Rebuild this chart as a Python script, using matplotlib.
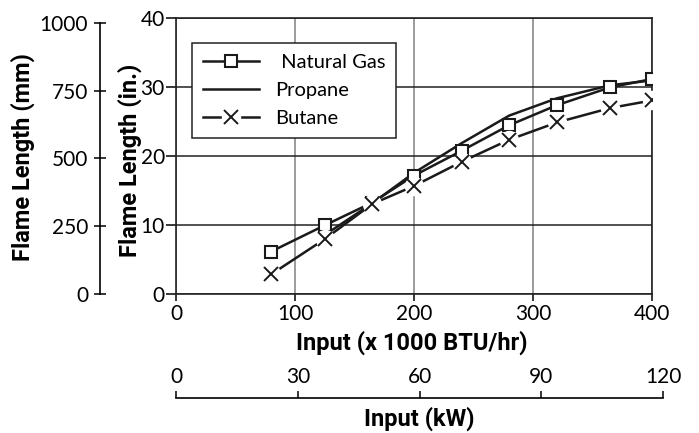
import numpy as np
import matplotlib.pyplot as plt
from matplotlib.ticker import FixedLocator

plt.rcParams['font.family'] = ['Lato', 'DejaVu Sans']

# input in 1000 BTU/hr, flame length in inches
ng_x = [80, 125, 165, 200, 240, 280, 320, 365, 400]
ng_y = [6.2, 10.0, 13.3, 17.2, 20.8, 24.5, 27.4, 30.0, 31.2]
pr_x = [125, 165, 200, 240, 280, 320, 365, 400]
pr_y = [8.6, 13.2, 17.6, 21.9, 25.9, 28.4, 30.3, 31.0]
bu_x = [80, 125, 165, 200, 240, 280, 320, 365, 400]
bu_y = [2.9, 8.0, 13.1, 15.7, 19.2, 22.4, 24.9, 27.0, 28.1]

x_ticks = [0, 100, 200, 300, 400]
y_ticks = [0, 10, 20, 30, 40]
mm_ticks = [0, 250, 500, 750, 1000]
kw_ticks = [0, 30, 60, 90, 120]

BTU_PER_KW = 3.412  # 1000 BTU/hr per kW
lab_font = dict(family=['Roboto', 'DejaVu Sans'], weight='bold', size=17)

W, H = 699, 433
fig = plt.figure(figsize=(W / 100, H / 100), dpi=100)
L, R, T, B = 176, 652, 18.3, 294.3
ax = fig.add_axes([L / W, 1 - B / H, (R - L) / W, (B - T) / H])

ax.plot(pr_x, pr_y, color='#1a1a1a', lw=1.8, zorder=3, label='Propane')
ng, = ax.plot(ng_x, ng_y, color='#1a1a1a', lw=1.8, marker='s', ms=8,
              mfc='white', mec='#1a1a1a', mew=1.5, zorder=4)
bu_gap, = ax.plot(bu_x, bu_y, color='#1a1a1a', lw=1.8, marker='o', ms=13,
                  mfc='white', mec='white', zorder=5)
bu_mk, = ax.plot(bu_x, bu_y, ls='none', marker='x', ms=10, mec='#1a1a1a',
                 mew=1.4, zorder=6)

ax.set_xlim(0, 400)
ax.set_ylim(0, 40)
ax.set_xticks(x_ticks)
ax.set_yticks(y_ticks)
ax.xaxis.grid(True, color='#808080', lw=1.1)
ax.yaxis.grid(True, color='#222222', lw=1.1)
ax.set_axisbelow(True)
for s in ax.spines.values():
    s.set_linewidth(1.2)
    s.set_color('#222222')
ax.tick_params(axis='y', direction='out', length=7, width=1.1, pad=1, labelsize=15)
ax.tick_params(axis='x', direction='out', length=5, width=1.1, pad=2, labelsize=15)

handles = [ng, ax.lines[0], (bu_gap, bu_mk)]
leg = ax.legend(handles, [' Natural Gas', 'Propane', 'Butane'],
                loc='upper left', bbox_to_anchor=(0.0336, 0.9116),
                borderaxespad=0, fontsize=14.5, handlelength=2.8,
                handletextpad=0.8, labelspacing=0.55, borderpad=0.55,
                fancybox=False, framealpha=1, edgecolor='#222222')
leg.get_frame().set_linewidth(1.1)

# mm scale on the left
sec = ax.secondary_yaxis((100 - L) / (R - L),
                         functions=(lambda v: v * 25.4, lambda v: v / 25.4))
sec.set_yticks(mm_ticks)
sec.spines['left'].set_bounds(0, 1000)
sec.spines['left'].set_linewidth(1.2)
sec.tick_params(direction='inout', length=9, width=1.1, pad=4, labelsize=15)

# kW scale below
kw_w = (R - L) * 120 * BTU_PER_KW / 400
axk = fig.add_axes([L / W, 1 - 398 / H, kw_w / W, 0.0001])
axk.set_xlim(0, 120)
axk.set_yticks([])
for k in ['left', 'right', 'bottom']:
    axk.spines[k].set_visible(False)
axk.spines['top'].set_linewidth(1.2)
axk.xaxis.tick_top()
axk.set_xticks(kw_ticks)
axk.xaxis.set_minor_locator(FixedLocator([0, 120]))
axk.tick_params(which='major', direction='out', length=5, width=1.1, pad=3, labelsize=15)
axk.tick_params(which='minor', direction='inout', length=11, width=1.1)
axk.patch.set_visible(False)

fig.text(412 / W, 1 - 343 / H, 'Input (x 1000 BTU/hr)', ha='center', va='center', **lab_font)
fig.text(419 / W, 1 - 419 / H, 'Input (kW)', ha='center', va='center', **lab_font)
fig.text(130 / W, 1 - 160 / H, 'Flame Length (in.)', ha='center', va='center',
         rotation=90, **lab_font)
fig.text(23 / W, 1 - 157 / H, 'Flame Length (mm)', ha='center', va='center',
         rotation=90, **lab_font)

fig.savefig('out.png', dpi=100)
